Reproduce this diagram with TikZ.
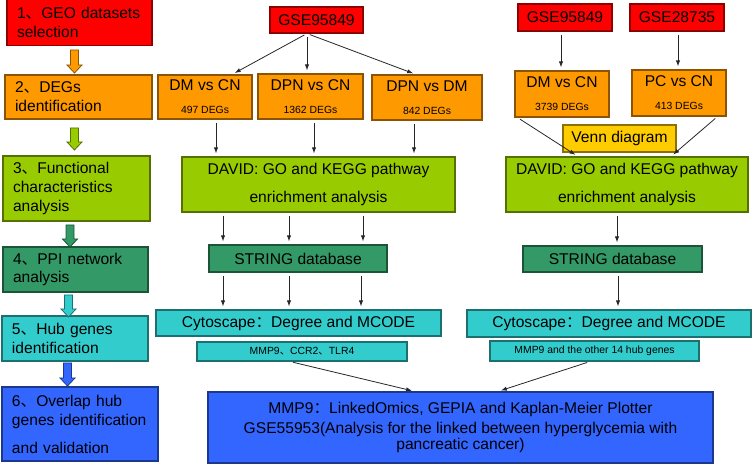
\documentclass[tikz,border=0pt]{standalone}
\usepackage{fontspec}
\setmainfont{Liberation Sans}
\newfontfamily\cjk{Noto Sans CJK SC}
\usetikzlibrary{calc,arrows.meta}

\definecolor{cRed}{HTML}{FF0000}
\definecolor{cOrange}{HTML}{FF9900}
\definecolor{cLime}{HTML}{99CC00}
\definecolor{cSea}{HTML}{339966}
\definecolor{cTeal}{HTML}{33CCCC}
\definecolor{cBlue}{HTML}{3366FF}
\definecolor{cGold}{HTML}{FFCC00}

\newcommand{\dunhao}{{\cjk 、}}
\newcommand{\quancolon}{{\cjk ：}}
\newcommand{\degs}[1]{{\fontsize{7.8}{9}\selectfont #1}}

\tikzset{
	cbox/.style={draw=#1!55!black, fill=#1, line width=0.8pt, inner sep=0pt, align=center},
	wh/.style n args={2}{minimum width=#1*0.75pt, minimum height=#2*0.75pt},
	stepbox/.style={cbox=#1, inner xsep=7.5pt, align=left},
	arr/.style={draw=black!85, line width=0.6pt, shorten <=2.25pt, shorten >=2.25pt, -{Latex[length=4.5pt,width=3.2pt]}},
}

\begin{document}
\begin{tikzpicture}[x=0.75pt,y=-0.75pt,
	every node/.style={font=\fontsize{11.7}{14.2}\selectfont, text=black}]
	\useasboundingbox (0,0) rectangle (753,466);
	
	%steps on the left
	\node[stepbox=cRed, wh={145}{46}, text width=93.75pt] (s1) at (79.5,22.5) {1\dunhao GEO datasets\\selection};
	\node[stepbox=cOrange, wh={147}{44}, text width=95.25pt] (s2) at (78.5,97) {2\dunhao DEGs\\identification};
	\node[stepbox=cLime, wh={147}{65}, text width=95.25pt] (s3) at (76.5,188.5) {3\dunhao Functional\\characteristics\\analysis};
	\node[stepbox=cSea, wh={145}{45}, text width=93.75pt] (s4) at (75.5,269.5) {4\dunhao PPI network\\analysis};
	\node[stepbox=cTeal, wh={146}{45}, text width=94.5pt] (s5) at (75,338.5) {5\dunhao Hub genes\\identification};
	\node[stepbox=cBlue, wh={156}{74}, text width=102pt] (s6) at (80,424) {6\dunhao Overlap hub\\genes identification\\[6.75pt]and validation};
	
	%block arrows between the steps
	\foreach \x/\ya/\yb/\c in {74.5/50/73/cOrange, 74.5/128/150/cLime, 70/225/247/cSea, 68.5/295/317/cTeal, 67.5/363/386/cBlue}{
		\draw[draw=\c!55!black, fill=\c, line width=0.6pt] (\x-4,\ya) -- (\x+4,\ya) -- (\x+4,\yb-8) -- (\x+7.5,\yb-8) -- (\x,\yb) -- (\x-7.5,\yb-8) -- (\x-4,\yb-8) -- cycle;
	}
	
	%GSE95849 branch
	\node[cbox=cRed, wh={93}{26}] (g1) at (316.5,20) {GSE95849};
	\node[cbox=cOrange, wh={94}{44}] (m1) at (205,97) {DM vs CN\\[3pt]\degs{497 DEGs}};
	\node[cbox=cOrange, wh={105}{45}] (m2) at (310.5,96.5) {DPN vs CN\\[3pt]\degs{1362 DEGs}};
	\node[cbox=cOrange, wh={110}{45}] (m3) at (427,97.5) {DPN vs DM\\[3pt]\degs{842 DEGs}};
	\node[cbox=cLime, wh={273}{55}] (d1) at (318.5,184.5) {DAVID: GO and KEGG pathway\\[6.8pt]enrichment analysis};
	\node[cbox=cSea, wh={178}{27}] (st1) at (298,258.5) {STRING database};
	\node[cbox=cTeal, wh={285}{26}] (cy1) at (298.5,323) {Cytoscape\quancolon Degree and MCODE};
	\node[cbox=cTeal, wh={210}{19}] (h1) at (302,351.5) {\degs{MMP9\dunhao CCR2\dunhao TLR4}};
	
	%GSE95849 and GSE28735 branch
	\node[cbox=cRed, wh={94}{27}] (g2) at (565,17.5) {GSE95849};
	\node[cbox=cRed, wh={94}{27}] (g3) at (677,17.5) {GSE28735};
	\node[cbox=cOrange, wh={94}{46}] (r1) at (562,94) {DM vs CN\\[3pt]\degs{3739 DEGs}};
	\node[cbox=cOrange, wh={94}{46}] (r2) at (679,93) {PC vs CN\\[3pt]\degs{413 DEGs}};
	\node[cbox=cGold, wh={113}{27}] (vn) at (619.5,138.5) {Venn diagram};
	\node[cbox=cLime, wh={242}{55}] (d2) at (627,184.5) {DAVID: GO and KEGG pathway\\[6.8pt]enrichment analysis};
	\node[cbox=cSea, wh={179}{26}] (st2) at (612.5,259) {STRING database};
	\node[cbox=cTeal, wh={284}{27}] (cy2) at (609,323.5) {Cytoscape\quancolon Degree and MCODE};
	\node[cbox=cTeal, wh={209}{20}] (h2) at (594.5,351) {\degs{MMP9 and the other 14 hub genes}};
	
	%validation
	\node[cbox=cBlue, wh={505}{71}] (fin) at (460.5,427.5) {MMP9\quancolon LinkedOmics, GEPIA and Kaplan-Meier Plotter\\[1pt]GSE55953(Analysis for the linked between hyperglycemia with\\[-2.5pt]pancreatic cancer)};
	
	%connectors
	\foreach \t/\dx in {m1/27, m2/-3.5, m3/-11}{
		\draw[arr] ($(g1.south)+(-9.5,0)$) -- ($(\t.north)+(\dx,0)$);
	}
	\foreach \a/\b/\x in {m1/d1/216, m2/d1/314, m3/d1/414, d1/st1/223, d1/st1/289, d1/st1/363, st1/cy1/223, st1/cy1/289, st1/cy1/361, g2/r1/561, g3/r2/678, d2/st2/617, st2/cy2/618}{
		\coordinate (ax) at (\x,0);
		\draw[arr] (\a.south -| ax) -- (\b.north -| ax);
	}
	\draw[arr] ($(r1.south west)+(3,0)$) -- ($(d2.north)+(-49,0)$);
	\draw[arr] ($(r2.south east)+(-9,0)$) -- ($(d2.north)+(44,0)$);
	\draw[arr] ($(h1.south)+(-12,0)$) -- ($(fin.north)+(-45.5,0)$);
	\draw[arr] ($(h2.south)+(-4.5,0)$) -- ($(fin.north)+(37.5,0)$);
	
\end{tikzpicture}
\end{document}
